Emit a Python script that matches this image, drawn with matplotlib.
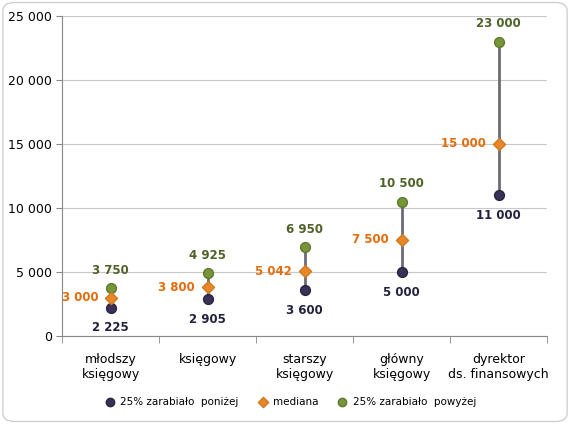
import numpy as np
import matplotlib
matplotlib.use("Agg")
import matplotlib.pyplot as plt
from matplotlib.patches import FancyBboxPatch
from matplotlib.ticker import FuncFormatter

# data
categories = ["młodszy\nksięgowy", "księgowy", "starszy\nksięgowy", "główny\nksięgowy", "dyrektor\nds. finansowych"]
low = [2225, 2905, 3600, 5000, 11000]
median = [3000, 3800, 5042, 7500, 15000]
high = [3750, 4925, 6950, 10500, 23000]
yticks = [0, 5000, 10000, 15000, 20000, 25000]

cLow, cMed, cHigh = "#3a3158", "#e8862a", "#77963a"
tLow, tMed, tHigh = "#22223f", "#e46c0a", "#4f6228"

def fmt(v, pos=None):
    return "{:,}".format(int(v)).replace(",", " ")

fig = plt.figure(figsize=(5.7, 4.24), dpi=100)
ax = fig.add_axes([0.109, 0.2075, 0.851, 0.755])

x = np.arange(len(categories))
ax.vlines(x, low, high, color="#6b6b78", lw=2, zorder=2)
ax.scatter(x, low, s=50, color=cLow, edgecolor="#2a2440", zorder=3, label="25% zarabiało  poniżej")
ax.scatter(x, median, s=38, marker="D", color=cMed, edgecolor="#d07a20", zorder=4, label="mediana")
ax.scatter(x, high, s=50, color=cHigh, edgecolor="#5f7a2e", zorder=3, label="25% zarabiało  powyżej")

for i in x:
    ax.annotate(fmt(low[i]), (i, low[i]), xytext=(0, -10), textcoords="offset points",
                ha="center", va="top", fontsize=8.5, fontweight="bold", color=tLow)
    ax.annotate(fmt(median[i]), (i, median[i]), xytext=(-9, 0), textcoords="offset points",
                ha="right", va="center", fontsize=8.5, fontweight="bold", color=tMed)
    ax.annotate(fmt(high[i]), (i, high[i]), xytext=(0, 8), textcoords="offset points",
                ha="center", va="bottom", fontsize=8.5, fontweight="bold", color=tHigh)

ax.set_xlim(-0.5, len(categories) - 0.5)
ax.set_ylim(0, 25000)
ax.set_yticks(yticks)
ax.yaxis.set_major_formatter(FuncFormatter(fmt))
ax.set_xticks(x)
ax.set_xticklabels(categories, fontsize=9)
ax.set_xticks(np.arange(len(categories) + 1) - 0.5, minor=True)
ax.tick_params(axis="x", which="major", length=0, pad=12)
ax.tick_params(axis="x", which="minor", length=5, color="#888888")
ax.tick_params(axis="y", length=4, color="#888888", labelsize=9)
ax.grid(axis="y", color="#c8c8c8", lw=0.8)
ax.set_axisbelow(True)
for s in ["top", "right"]:
    ax.spines[s].set_visible(False)
for s in ["left", "bottom"]:
    ax.spines[s].set_color("#888888")

leg = fig.legend(loc="center", bbox_to_anchor=(0.505, 0.052), ncol=3, frameon=False,
                 fontsize=7.5, handletextpad=0.0, columnspacing=1.3, markerscale=0.85)

# rounded frame around the chart
fig.patches.append(FancyBboxPatch((0.005, 0.006), 0.99, 0.988, boxstyle="round,pad=0,rounding_size=0.02",
                                  transform=fig.transFigure, fill=False, ec="#d0d0d0", lw=1))

fig.savefig("out.png", dpi=100)
